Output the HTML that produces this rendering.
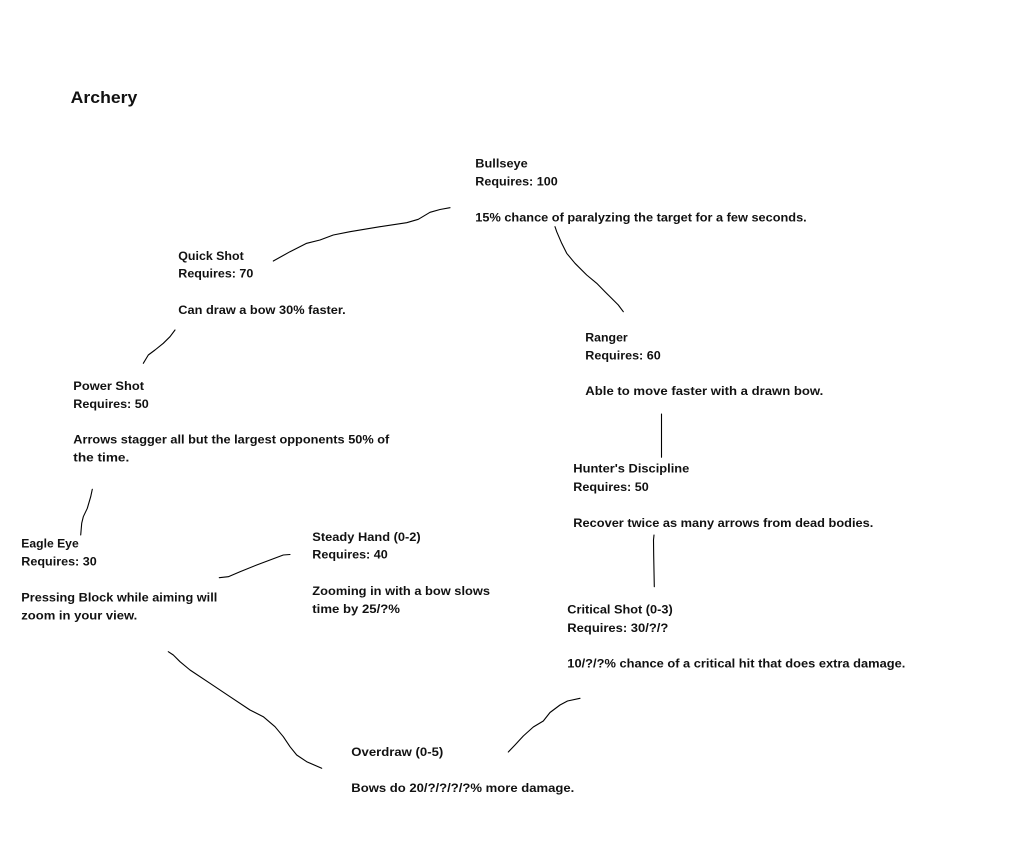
<!DOCTYPE html>
<html>
<head>
<meta charset="utf-8">
<style>
html,body{margin:0;padding:0;background:#fff;}
body{width:1029px;height:857px;overflow:hidden;}
svg{display:block;}
text{font-family:"Liberation Sans",Arial,sans-serif;font-weight:bold;fill:#111;font-size:12px;}
.t{font-size:17px;}
polyline{fill:none;stroke:#000;stroke-width:1.1;stroke-linejoin:round;stroke-linecap:round;}
</style>
</head>
<body>
<svg width="1029" height="857" viewBox="0 0 1029 857" xmlns="http://www.w3.org/2000/svg">
<rect width="1029" height="857" fill="#fff"/>

<text class="t" x="70.7" y="103" textLength="66.6" lengthAdjust="spacingAndGlyphs">Archery</text>

<!-- Bullseye -->
<text x="475.3" y="167.7" textLength="52.4" lengthAdjust="spacingAndGlyphs">Bullseye</text>
<text x="475.3" y="185.7" textLength="82.4" lengthAdjust="spacingAndGlyphs">Requires: 100</text>
<text x="475.3" y="221.5" textLength="331.4" lengthAdjust="spacingAndGlyphs">15% chance of paralyzing the target for a few seconds.</text>

<!-- Quick Shot -->
<text x="178.3" y="259.8" textLength="65.4" lengthAdjust="spacingAndGlyphs">Quick Shot</text>
<text x="178.3" y="277.6" textLength="75" lengthAdjust="spacingAndGlyphs">Requires: 70</text>
<text x="178.3" y="313.8" textLength="167.4" lengthAdjust="spacingAndGlyphs">Can draw a bow 30% faster.</text>

<!-- Ranger -->
<text x="585.3" y="341.5" textLength="42.4" lengthAdjust="spacingAndGlyphs">Ranger</text>
<text x="585.3" y="359.3" textLength="75.4" lengthAdjust="spacingAndGlyphs">Requires: 60</text>
<text x="585.3" y="395" textLength="238" lengthAdjust="spacingAndGlyphs">Able to move faster with a drawn bow.</text>

<!-- Power Shot -->
<text x="73.3" y="390" textLength="70.7" lengthAdjust="spacingAndGlyphs">Power Shot</text>
<text x="73.3" y="407.8" textLength="75.4" lengthAdjust="spacingAndGlyphs">Requires: 50</text>
<text x="73.3" y="443.6" textLength="316" lengthAdjust="spacingAndGlyphs">Arrows stagger all but the largest opponents 50% of</text>
<text x="73.3" y="461.6" textLength="56" lengthAdjust="spacingAndGlyphs">the time.</text>

<!-- Hunter's Discipline -->
<text x="573.3" y="472.6" textLength="116" lengthAdjust="spacingAndGlyphs">Hunter's Discipline</text>
<text x="573.3" y="490.8" textLength="75.4" lengthAdjust="spacingAndGlyphs">Requires: 50</text>
<text x="573.3" y="526.8" textLength="300" lengthAdjust="spacingAndGlyphs">Recover twice as many arrows from dead bodies.</text>

<!-- Eagle Eye -->
<text x="21.3" y="547.6" textLength="57.4" lengthAdjust="spacingAndGlyphs">Eagle Eye</text>
<text x="21.3" y="565.6" textLength="75.4" lengthAdjust="spacingAndGlyphs">Requires: 30</text>
<text x="21.3" y="601.4" textLength="196" lengthAdjust="spacingAndGlyphs">Pressing Block while aiming will</text>
<text x="21.3" y="619.4" textLength="116" lengthAdjust="spacingAndGlyphs">zoom in your view.</text>

<!-- Steady Hand -->
<text x="312.3" y="540.8" textLength="108.4" lengthAdjust="spacingAndGlyphs">Steady Hand (0-2)</text>
<text x="312.3" y="558.6" textLength="75.4" lengthAdjust="spacingAndGlyphs">Requires: 40</text>
<text x="312.3" y="594.8" textLength="177.7" lengthAdjust="spacingAndGlyphs">Zooming in with a bow slows</text>
<text x="312.3" y="612.8" textLength="87.7" lengthAdjust="spacingAndGlyphs">time by 25/?%</text>

<!-- Critical Shot -->
<text x="567.3" y="613.4" textLength="105.4" lengthAdjust="spacingAndGlyphs">Critical Shot (0-3)</text>
<text x="567.3" y="631.8" textLength="101" lengthAdjust="spacingAndGlyphs">Requires: 30/?/?</text>
<text x="567.3" y="667.4" textLength="338" lengthAdjust="spacingAndGlyphs">10/?/?% chance of a critical hit that does extra damage.</text>

<!-- Overdraw -->
<text x="351.3" y="755.8" textLength="92" lengthAdjust="spacingAndGlyphs">Overdraw (0-5)</text>
<text x="351.3" y="791.8" textLength="223" lengthAdjust="spacingAndGlyphs">Bows do 20/?/?/?/?% more damage.</text>

<!-- Connectors -->
<polyline points="450,207.7 440,209.5 430,212.3 418.3,219.3 406.7,222.7 380,226.7 350,231.7 333.3,235 320,240 306.7,243.3 290,251.7 273.3,261"/>
<polyline points="555,226.7 556.7,231.7 561.7,243.3 566.7,253.3 575,263.3 586.7,275 596.7,283.3 605,291.7 613.3,300 618.3,305 623.3,311.7"/>
<polyline points="175,330 170,336.7 163.3,343.3 155,350 148.3,355 143.3,363.3"/>
<polyline points="92.3,489.3 90.7,496.7 87.3,508.3 83.3,516.7 81.7,523.3 80.7,535"/>
<polyline points="290,554.5 283.3,555 270,560 256.7,565 240,571.7 228.3,576.7 219.3,577.7"/>
<polyline points="168.3,651.7 173.3,655 180,661.7 190,670 210,683.3 230,696.7 250,710 263.3,716.7 275,726.7 283.3,736.7 290,746.7 296.7,755 306.7,761.7 321.7,768.3"/>
<polyline points="580,698.3 567.5,701 560,705 550,712.5 543.3,721 533.3,727 523.3,736 515,745 508.3,752"/>
<polyline points="661.5,414 661.5,457.3"/>
<polyline points="654,535 653.5,540 653.7,556 654.3,586.7"/>
</svg>
</body>
</html>
